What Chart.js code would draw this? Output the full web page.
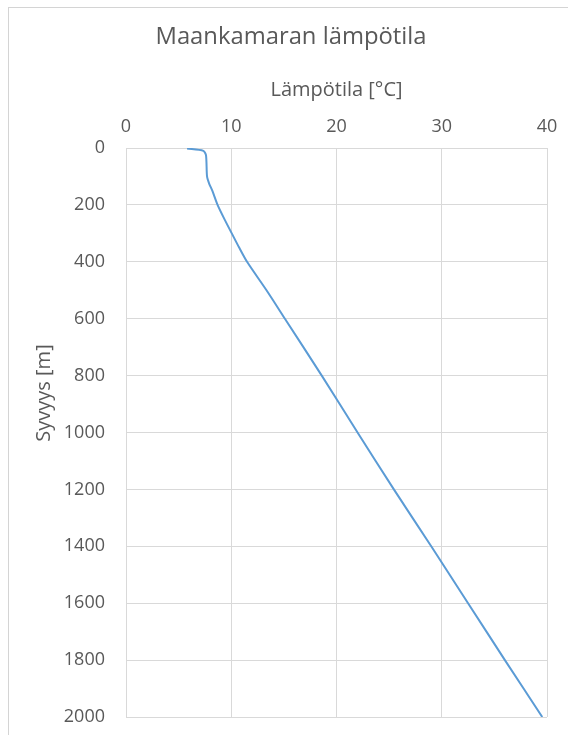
<!DOCTYPE html>
<html><head><meta charset="utf-8">
<script src="https://cdn.jsdelivr.net/npm/chart.js@4.4.1/dist/chart.umd.min.js"></script>
<style>
html,body{margin:0;padding:0;background:#fff;}
#frame{position:absolute;left:8px;top:7px;width:560px;height:728px;border-left:1px solid #d4d4d4;border-top:1px solid #d4d4d4;box-sizing:border-box;}
#wrap{position:absolute;left:0;top:0;width:568px;height:735px;}
</style></head><body>
<div id="frame"></div>
<div id="wrap"><canvas id="c" width="568" height="735"></canvas></div>
<script>
const chartTitle = 'Maankamaran lämpötila';
const xAxisTitle = 'Lämpötila [°C]';
const yAxisTitle = 'Syvyys [m]';
const depths =       [2,   10,   25,  100, 125,  150, 200, 250, 300,   350,   400,  500,   600,  800,  1000, 1200,  1400, 1600, 1800, 2000];
const temperatures = [5.8, 7.35, 7.6, 7.7, 7.9,  8.2, 8.7, 9.35, 10.05, 10.75, 11.5, 13.35, 15.1, 18.6, 22.0, 25.45, 29.0, 32.5, 36.0, 39.55];
const xTicks = [0, 10, 20, 30, 40];
const yTicks = [0, 200, 400, 600, 800, 1000, 1200, 1400, 1600, 1800, 2000];

const textColor = '#595959';
const gridColor = '#d9d9d9';

const titlesPlugin = {
  id: 'titles',
  afterDraw(chart) {
    const {ctx, chartArea} = chart;
    ctx.save();
    ctx.fillStyle = textColor;
    ctx.textAlign = 'center';
    ctx.textBaseline = 'middle';
    ctx.font = '23.8px "Open Sans"';
    ctx.fillText(chartTitle, 291, 37);
    ctx.translate(44, chartArea.top + 245);
    ctx.rotate(-Math.PI / 2);
    ctx.font = '20px "Open Sans"';
    ctx.fillText(yAxisTitle, 0, 0);
    ctx.restore();
  }
};

new Chart(document.getElementById('c'), {
  type: 'scatter',
  data: {
    datasets: [{
      data: depths.map((d, i) => ({x: temperatures[i], y: d})),
      showLine: true,
      borderColor: '#5b9bd5',
      borderWidth: 2,
      pointRadius: 0,
      tension: 0.25,
      fill: false
    }]
  },
  options: {
    responsive: false,
    animation: false,
    layout: {padding: {left: 0, right: 21, top: 50.8, bottom: 18}},
    plugins: {
      legend: {display: false},
      tooltip: {enabled: false},
      title: {display: false}
    },
    scales: {
      x: {
        type: 'linear',
        position: 'top',
        min: 0, max: 40,
        afterBuildTicks: s => { s.ticks = xTicks.map(v => ({value: v})); },
        afterFit: s => { s.height = 97.2; s.paddingLeft = 0; s.paddingRight = 0; },
        grid: {color: gridColor, lineWidth: 1, drawTicks: false},
        border: {display: false},
        ticks: {color: textColor, padding: 10.5, font: {family: '"Open Sans"', size: 18}, callback: v => String(v)},
        title: {
          display: true, text: xAxisTitle, color: textColor,
          font: {family: '"Open Sans"', size: 20},
          padding: {top: 27.5, bottom: 0}
        }
      },
      y: {
        type: 'linear',
        reverse: true,
        min: 0, max: 2000,
        afterBuildTicks: s => { s.ticks = yTicks.map(v => ({value: v})); },
        afterFit: s => { s.width = 126; s.paddingTop = 0; s.paddingBottom = 0; },
        grid: {color: gridColor, lineWidth: 1, drawTicks: false},
        border: {display: false},
        ticks: {color: textColor, padding: 21, font: {family: '"Open Sans"', size: 18}, callback: v => String(v)},
        title: {display: false}
      }
    }
  },
  plugins: [titlesPlugin]
});
</script>
</body></html>
